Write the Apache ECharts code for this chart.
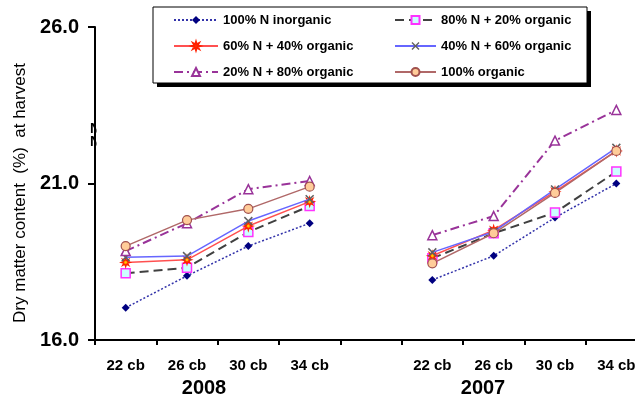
<!DOCTYPE html>
<html>
<head>
<meta charset="utf-8">
<script src="https://cdn.jsdelivr.net/npm/echarts@6/dist/echarts.min.js"></script>
<style>html,body{margin:0;padding:0;background:#fff;}#c{width:635px;height:399px;}</style>
</head>
<body>
<div id="c"></div>
<script>
// ---- data ----
const categories = ["22 cb", "26 cb", "30 cb", "34 cb", "", "22 cb", "26 cb", "30 cb", "34 cb"];
const years = ["2008", "2007"];
const yTicks = [16, 21, 26];
const seriesNames = ["100% N inorganic", "80% N + 20% organic", "60% N + 40% organic",
                     "40% N + 60% organic", "20% N + 80% organic", "100% organic"];
const inorganic100_2008 = [17.03, 18.05, 19.00, 19.73];
const inorganic100_2007 = [17.92, 18.69, 19.91, 21.00];
const n80_2008 = [18.13, 18.31, 19.45, 20.28];
const n80_2007 = [18.61, 19.41, 20.07, 21.38];
const n60_2008 = [18.48, 18.56, 19.64, 20.42];
const n60_2007 = [18.69, 19.51, 20.74, 22.04];
const n40_2008 = [18.64, 18.68, 19.80, 20.50];
const n40_2007 = [18.80, 19.46, 20.81, 22.14];
const n20_2008 = [18.84, 19.73, 20.82, 21.08];
const n20_2007 = [19.35, 19.96, 22.37, 23.35];
const organic100_2008 = [19.00, 19.83, 20.19, 20.90];
const organic100_2007 = [18.45, 19.41, 20.70, 22.04];

function join(a, b) { return a.concat([null], b); }
const values = [
  join(inorganic100_2008, inorganic100_2007),
  join(n80_2008, n80_2007),
  join(n60_2008, n60_2007),
  join(n40_2008, n40_2007),
  join(n20_2008, n20_2007),
  join(organic100_2008, organic100_2007)
];

// ---- styles ----
const FONT = "'Liberation Sans', Arial, sans-serif";
const asterisk = (function () {
  let d = 'path://';
  const n = 8;
  for (let i = 0; i < n * 2; i++) {
    const r = i % 2 === 0 ? 10 : 4.5;
    const a = Math.PI * i / n - Math.PI / 2;
    d += (i === 0 ? 'M' : 'L') + (10 + r * Math.cos(a)).toFixed(2) + ',' + (10 + r * Math.sin(a)).toFixed(2);
  }
  return d + 'Z';
})();
const xMark = 'path://M0,1.2L1.2,0L5,3.8L8.8,0L10,1.2L6.2,5L10,8.8L8.8,10L5,6.2L1.2,10L0,8.8L3.8,5Z';

const styles = [
  { line: { color: '#3333aa', width: 1.5, type: [2, 2] }, symbol: 'diamond', size: 8,
    item: { color: '#000080', borderColor: '#000080', borderWidth: 0 } },
  { line: { color: '#404040', width: 2, type: [9, 5] }, symbol: 'rect', size: 9,
    item: { color: '#ccffff', borderColor: '#ff33ff', borderWidth: 1.5 } },
  { line: { color: '#ff5050', width: 1.5, type: 'solid' }, symbol: asterisk, size: 9,
    item: { color: '#ffcc00', borderColor: '#ff2000', borderWidth: 1.2 } },
  { line: { color: '#6666ff', width: 1.5, type: 'solid' }, symbol: xMark, size: 9,
    item: { color: '#606060', borderColor: '#606060', borderWidth: 0 } },
  { line: { color: '#993399', width: 2, type: [9, 4, 2, 4] }, symbol: 'triangle', size: 9,
    item: { color: '#ffffff', borderColor: '#993399', borderWidth: 1.5 } },
  { line: { color: '#b06868', width: 1.5, type: 'solid' }, symbol: 'circle', size: 9,
    item: { color: '#ffcc99', borderColor: '#a0504d', borderWidth: 1.2 } }
];

const series = seriesNames.map((name, i) => ({
  name: name,
  type: 'line',
  data: values[i],
  connectNulls: false,
  symbol: styles[i].symbol,
  symbolSize: styles[i].size,
  showAllSymbol: true,
  lineStyle: styles[i].line,
  itemStyle: styles[i].item,
  z: 2 + i,
  animation: false
}));

const chart = echarts.init(document.getElementById('c'), null, { renderer: 'canvas' });
const legendText = { fontFamily: FONT, fontSize: 13, fontWeight: 'bold', color: '#000', lineHeight: 14 };
chart.setOption({
  animation: false,
  backgroundColor: '#fff',
  grid: { left: 95, right: -12, top: 27, bottom: 59, containLabel: false, outerBoundsMode: 'none' },
  xAxis: {
    type: 'category',
    data: categories,
    boundaryGap: true,
    axisLine: { lineStyle: { color: '#000', width: 2 } },
    axisTick: { show: true, length: 5, interval: 0, alignWithLabel: false, lineStyle: { color: '#000', width: 2 } },
    axisLabel: { interval: 0, margin: 18, fontFamily: FONT, fontSize: 15, fontWeight: 'bold', color: '#000' },
    splitLine: { show: false }
  },
  yAxis: {
    type: 'value',
    min: yTicks[0], max: yTicks[yTicks.length - 1], interval: yTicks[1] - yTicks[0],
    axisLine: { show: true, lineStyle: { color: '#000', width: 2 } },
    axisTick: { show: true, length: 7, lineStyle: { color: '#000', width: 2 } },
    axisLabel: { margin: 16, fontFamily: FONT, fontSize: 20, fontWeight: 'bold', color: '#000',
                 formatter: v => v.toFixed(1) },
    splitLine: { show: false }
  },
  legend: [
    { orient: 'vertical', left: 173, top: 13, itemWidth: 44, itemHeight: 10, itemGap: 12,
      data: [seriesNames[0], seriesNames[2], seriesNames[4]], textStyle: legendText, selectedMode: false, padding: 0 },
    { orient: 'vertical', left: 394, top: 13, itemWidth: 41, itemHeight: 10, itemGap: 12,
      data: [seriesNames[1], seriesNames[3], seriesNames[5]], textStyle: legendText, selectedMode: false, padding: 0 }
  ],
  graphic: [
    { type: 'rect', shape: { x: 157, y: 11, width: 434, height: 76 }, style: { fill: '#000' }, z: -10 },
    { type: 'rect', shape: { x: 153, y: 7, width: 434, height: 76 }, style: { fill: '#fff', stroke: '#000', lineWidth: 1 }, z: -9 },
    { type: 'text', x: 90, y: 129, style: { text: 'N', fontFamily: FONT, fontSize: 14, fontWeight: 'bold', fill: '#000', textAlign: 'left', textVerticalAlign: 'middle' }, z: -5 },
    { type: 'text', x: 90, y: 142, style: { text: 'N', fontFamily: FONT, fontSize: 14, fontWeight: 'bold', fill: '#000', textAlign: 'left', textVerticalAlign: 'middle' }, z: -5 },
    { type: 'rect', shape: { x: 96.5, y: 115, width: 10, height: 35 }, style: { fill: '#fff' }, z: -4 },
    { type: 'text', x: 20, y: 193, rotation: Math.PI / 2,
      style: { text: 'Dry matter content  (%)  at harvest', fontFamily: FONT, fontSize: 17, fill: '#000', textAlign: 'center', textVerticalAlign: 'middle' } },
    { type: 'text', x: 204, y: 388, style: { text: years[0], fontFamily: FONT, fontSize: 20, fontWeight: 'bold', fill: '#000', textAlign: 'center', textVerticalAlign: 'middle' } },
    { type: 'text', x: 483, y: 388, style: { text: years[1], fontFamily: FONT, fontSize: 20, fontWeight: 'bold', fill: '#000', textAlign: 'center', textVerticalAlign: 'middle' } }
  ],
  series: series
});
</script>
</body>
</html>
